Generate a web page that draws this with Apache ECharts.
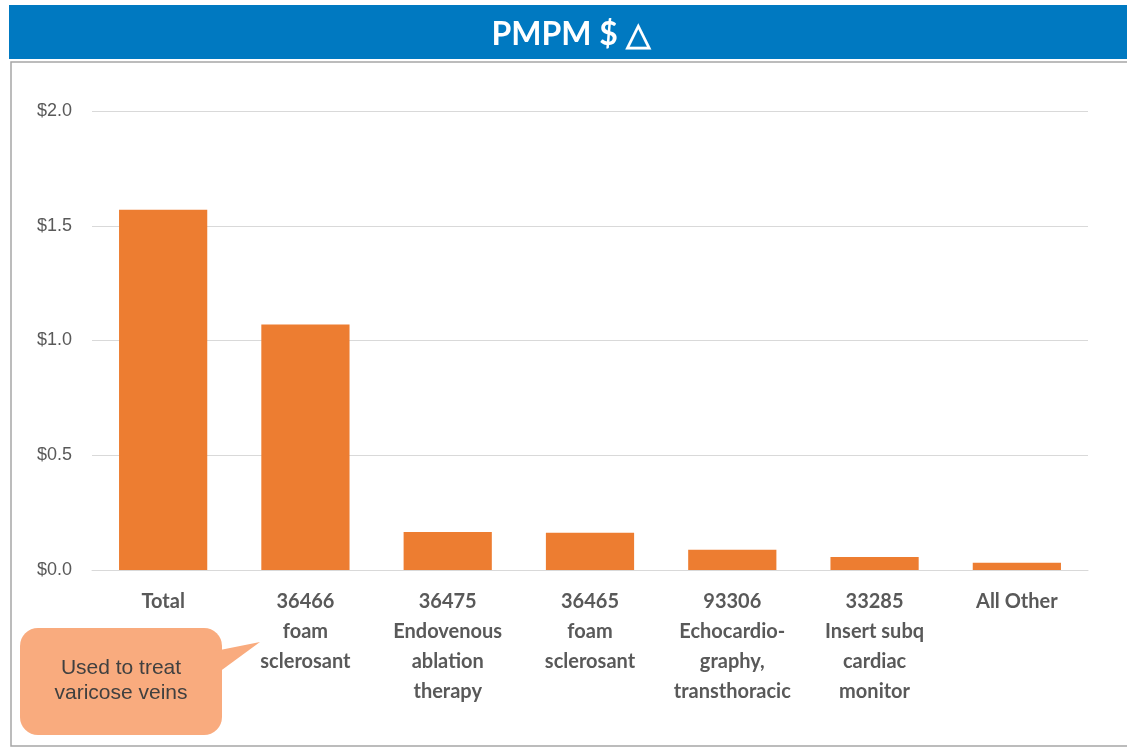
<!DOCTYPE html>
<html>
<head>
<meta charset="utf-8">
<script src="https://cdn.jsdelivr.net/npm/echarts@6/dist/echarts.min.js"></script>
<style>
  html, body { margin: 0; padding: 0; background: #fff; }
  #chart { width: 1127px; height: 749px; }
</style>
</head>
<body>
<div id="chart"></div>
<script>
// categories and values
var categories = [
    "Total",
    "36466\nfoam\nsclerosant",
    "36475\nEndovenous\nablation\ntherapy",
    "36465\nfoam\nsclerosant",
    "93306\nEchocardio-\ngraphy,\ntransthoracic",
    "33285\nInsert subq\ncardiac\nmonitor",
    "All Other"
];
var pmpmDelta = [1.57, 1.07, 0.166, 0.162, 0.088, 0.057, 0.032];
var yTicks = [0, 0.5, 1.0, 1.5, 2.0];

var myChart = echarts.init(document.getElementById("chart"));

var option = {
    animation: false,
    grid: { left: 92, right: 39, top: 111, bottom: 179 },
    xAxis: {
        type: "category",
        data: categories,
        axisLine: { lineStyle: { color: "#d9d9d9", width: 1 } },
        axisTick: { show: false },
        axisLabel: {
            interval: 0,
            margin: 17,
            lineHeight: 30,
            color: "#595959",
            fontFamily: "Lato",
            fontWeight: "bold",
            fontSize: 20
        }
    },
    yAxis: {
        type: "value",
        min: yTicks[0],
        max: yTicks[yTicks.length - 1],
        interval: 0.5,
        axisLine: { show: false },
        axisTick: { show: false },
        splitLine: { lineStyle: { color: "#d9d9d9", width: 1 } },
        axisLabel: {
            margin: 20,
            color: "#595959",
            fontFamily: "Liberation Sans",
            fontSize: 18,
            formatter: function (v) { return "$" + v.toFixed(1); }
        }
    },
    series: [{
        type: "bar",
        data: pmpmDelta,
        barWidth: "62%",
        itemStyle: { color: "#ed7d31" }
    }],
    graphic: [
        // outer frame
        {
            type: "rect", z: -1,
            shape: { x: 11, y: 62, width: 1130, height: 684 },
            style: { fill: "none", stroke: "#a6a6a6", lineWidth: 1.5 }
        },
        // title band
        {
            type: "rect",
            shape: { x: 9, y: 5, width: 1120, height: 54 },
            style: { fill: "#0079c1" }
        },
        {
            type: "text",
            x: 571, y: 35,
            style: {
                text: "PMPM $ \u25b3",
                fill: "#fff",
                font: "bold 32px Lato",
                textAlign: "center",
                textVerticalAlign: "middle"
            }
        },
        // callout bubble
        {
            type: "rect",
            shape: { x: 20, y: 628, width: 202, height: 107, r: 18 },
            style: { fill: "#f9ab7e" }
        },
        {
            type: "polygon",
            shape: { points: [[215, 651], [260, 642], [215, 675]] },
            style: { fill: "#f9ab7e" }
        },
        {
            type: "text",
            x: 121, y: 681,
            style: {
                text: "Used to treat\nvaricose veins",
                fill: "#404040",
                font: "21px 'Liberation Sans'",
                lineHeight: 25,
                textAlign: "center",
                textVerticalAlign: "middle"
            }
        }
    ]
};
myChart.setOption(option);
</script>
</body>
</html>
